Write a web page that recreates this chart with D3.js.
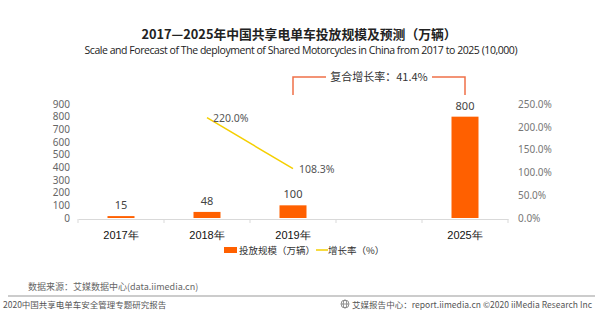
<!DOCTYPE html>
<html>
<head>
<meta charset="utf-8">
<script src="https://cdn.jsdelivr.net/npm/d3@7"></script>
<style>
  body { margin: 0; background: #fff; }
  svg { display: block; font-family: "Noto Sans CJK SC", "Noto Sans", sans-serif; }
</style>
</head>
<body>
<svg id="chart" width="603" height="327"></svg>
<script>
// categories (one empty slot between 2019 and 2025)
var years = ["2017年", "2018年", "2019年", "", "2025年"];
// deployment scale, 10,000 vehicles
var volume = [
  {year: "2017年", value: 15},
  {year: "2018年", value: 48},
  {year: "2019年", value: 100},
  {year: "2025年", value: 800}
];
// growth rate
var growth = [
  {year: "2018年", value: 2.20, label: "220.0%"},
  {year: "2019年", value: 1.083, label: "108.3%"}
];
var leftTicks = [0, 100, 200, 300, 400, 500, 600, 700, 800, 900];
var rightTicks = [0, 0.5, 1, 1.5, 2, 2.5];
var cagrText = "复合增长率：41.4%";

var svg = d3.select("#chart");
var orange = "#ff6000";
var yellow = "#f5cf00";

var x = d3.scaleBand().domain(years).range([78, 508]);
var y = d3.scaleLinear().domain([0, 900]).range([218, 104]);
var y2 = d3.scaleLinear().domain([0, 2.5]).range([218, 104]);
var barW = 27;
var cx = function(d) { return x(d) + x.bandwidth() / 2; };

// titles
svg.append("text")
    .attr("x", 299).attr("y", 39)
    .attr("text-anchor", "middle")
    .attr("font-size", 12.8).attr("font-weight", "bold").attr("fill", "#222")
    .text("2017—2025年中国共享电单车投放规模及预测（万辆）");
svg.append("text")
    .attr("x", 301).attr("y", 54)
    .attr("text-anchor", "middle")
    .attr("font-size", 10.5).attr("fill", "#222")
    .attr("font-family", "'Open Sans', 'Noto Sans', sans-serif")
    .attr("textLength", 433)
    .text("Scale and Forecast of The deployment of Shared Motorcycles in China from 2017 to 2025 (10,000)");

// left axis
var yAxis = svg.append("g")
    .attr("transform", "translate(70,0)")
    .call(d3.axisLeft(y).tickValues(leftTicks).tickSize(0).tickPadding(0));
yAxis.select(".domain").remove();
yAxis.selectAll("text").attr("font-size", 10).attr("fill", "#666")
    .attr("font-family", "'Noto Sans', sans-serif");

// right axis
var y2Axis = svg.append("g")
    .attr("transform", "translate(518,0)")
    .call(d3.axisRight(y2).tickValues(rightTicks).tickSize(0).tickPadding(0)
      .tickFormat(function(d) { return d3.format(".1f")(d * 100) + "%"; }));
y2Axis.select(".domain").remove();
y2Axis.selectAll("text").attr("font-size", 10).attr("fill", "#777")
    .attr("font-family", "'Noto Sans', sans-serif");

// x axis baseline with ticks at band edges
var xAxis = svg.append("g")
    .attr("transform", "translate(0,219)")
    .call(d3.axisBottom(x).tickSize(0).tickPadding(12).tickFormat(function(d) { return d; }));
xAxis.select(".domain").attr("stroke", "#d9d9d9");
xAxis.selectAll("text").attr("font-size", 11).attr("fill", "#111").attr("font-weight", 500);
svg.append("g").selectAll("line")
    .data(years.concat(["end"]))
    .join("line")
    .attr("x1", function(d, i) { return x.range()[0] + i * x.step(); })
    .attr("x2", function(d, i) { return x.range()[0] + i * x.step(); })
    .attr("y1", 219).attr("y2", 223)
    .attr("stroke", "#d9d9d9");

// bars
svg.append("g").selectAll("rect")
    .data(volume)
    .join("rect")
    .attr("x", function(d) { return cx(d.year) - barW / 2; })
    .attr("y", function(d) { return y(d.value); })
    .attr("width", barW)
    .attr("height", function(d) { return y(0) - y(d.value); })
    .attr("fill", orange);
svg.append("g").selectAll("text")
    .data(volume)
    .join("text")
    .attr("x", function(d) { return cx(d.year); })
    .attr("y", function(d) { return y(d.value) - 7; })
    .attr("text-anchor", "middle")
    .attr("font-size", 11).attr("fill", "#444")
    .attr("font-family", "'Noto Sans', sans-serif")
    .text(function(d) { return d.value; });

// growth line
var line = d3.line()
    .x(function(d) { return cx(d.year); })
    .y(function(d) { return y2(d.value); });
svg.append("path")
    .datum(growth)
    .attr("d", line)
    .attr("fill", "none")
    .attr("stroke", yellow)
    .attr("stroke-width", 1.5);
svg.append("g").selectAll("text")
    .data(growth)
    .join("text")
    .attr("x", function(d) { return cx(d.year) + 6; })
    .attr("y", function(d) { return y2(d.value) + 4; })
    .attr("font-size", 10.5).attr("fill", "#555")
    .attr("font-family", "'Noto Sans', sans-serif")
    .text(function(d) { return d.label; });

// CAGR bracket from 2019 to 2025
var ax1 = cx("2019年"), ax2 = cx("2025年"), amid = (ax1 + ax2) / 2;
var ay = 77, ay0 = 95;
var bracket = svg.append("g").attr("fill", "none").attr("stroke", "#f07048").attr("stroke-width", 1.5);
bracket.append("path").attr("d", "M" + ax1 + "," + ay0 + "V" + ay + "H" + (amid - 53));
bracket.append("path").attr("d", "M" + (amid + 53) + "," + ay + "H" + ax2 + "V" + ay0);
svg.append("text")
    .attr("x", amid).attr("y", ay + 4)
    .attr("text-anchor", "middle")
    .attr("font-size", 11).attr("fill", "#333")
    .text(cagrText);

// legend
var lg = svg.append("g").attr("font-size", 9.5).attr("fill", "#333");
lg.append("rect").attr("x", 224).attr("y", 247).attr("width", 13).attr("height", 6).attr("fill", orange);
lg.append("text").attr("x", 239).attr("y", 254).text("投放规模（万辆）");
lg.append("line").attr("x1", 316).attr("x2", 328).attr("y1", 250).attr("y2", 250)
    .attr("stroke", yellow).attr("stroke-width", 1.5);
lg.append("text").attr("x", 328).attr("y", 254).text("增长率（%）");

// source and footer
svg.append("text").attr("x", 28).attr("y", 290)
    .attr("font-size", 9).attr("fill", "#666")
    .text("数据来源：艾媒数据中心(data.iimedia.cn)");
svg.append("line").attr("x1", 8).attr("x2", 595).attr("y1", 296).attr("y2", 296)
    .attr("stroke", "#999").attr("stroke-width", 1);
svg.append("text").attr("x", 3).attr("y", 308)
    .attr("font-size", 8.5).attr("fill", "#555")
    .text("2020中国共享电单车安全管理专题研究报告");
var globe = svg.append("g").attr("transform", "translate(345,304)")
    .attr("fill", "none").attr("stroke", "#777").attr("stroke-width", 0.8);
globe.append("circle").attr("r", 4);
globe.append("ellipse").attr("rx", 1.8).attr("ry", 4);
globe.append("line").attr("x1", -4).attr("x2", 4);
svg.append("text").attr("x", 352).attr("y", 308)
    .attr("font-size", 8.5).attr("fill", "#555")
    .attr("textLength", 240)
    .text("艾媒报告中心：report.iimedia.cn  ©2020  iiMedia Research  Inc");
</script>
</body>
</html>
